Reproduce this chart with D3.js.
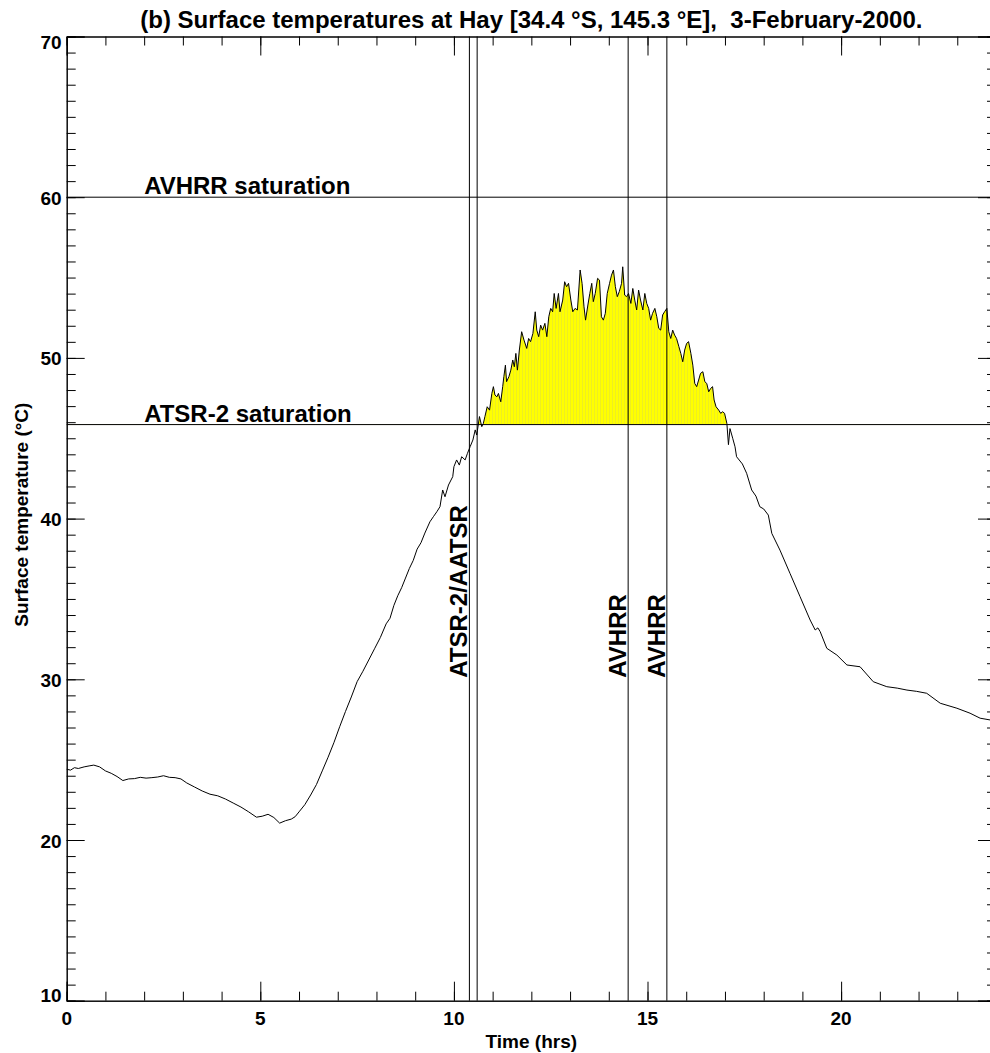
<!DOCTYPE html>
<html lang="en">
<head>
  <meta charset="UTF-8">
  <title>Surface temperatures at Hay</title>
  <style>
    body {
      margin: 0;
      background-color: #fff;
    }
    svg {
      display: block;
      font-family: "Liberation Sans", Arial, Helvetica, sans-serif;
      font-weight: bold;
    }
  </style>
  <script src="https://d3js.org/d3.v7.min.js"></script>
</head>
<body>
  <div id="chart"></div>

  <script>
    // Time of day (hrs) and surface temperature (deg C)
    const hours = [
      0.00, 0.10, 0.20, 0.30, 0.45, 0.60, 0.70, 0.85, 1.00, 1.15, 1.30, 1.45, 1.60, 1.75, 1.90,
      2.05, 2.20, 2.35, 2.50, 2.65, 2.80, 2.95, 3.10, 3.30, 3.50, 3.70, 3.90, 4.10, 4.30, 4.50,
      4.70, 4.90, 5.05, 5.20, 5.35, 5.50, 5.65, 5.80, 5.90, 6.00, 6.15, 6.30, 6.45, 6.60, 6.75,
      6.90, 7.05, 7.20, 7.35, 7.50, 7.65, 7.80, 7.95, 8.10, 8.25, 8.35, 8.45, 8.55, 8.65, 8.75,
      8.85, 8.95, 9.05, 9.15, 9.25, 9.38, 9.47, 9.56, 9.64, 9.71, 9.77, 9.86, 9.97, 10.00, 10.07,
      10.14, 10.20, 10.29, 10.35, 10.42, 10.49, 10.55, 10.59, 10.66, 10.72,
      10.76, 10.80, 10.86, 10.92, 10.98, 11.02, 11.06, 11.11,
      11.15, 11.21, 11.26, 11.29, 11.33, 11.36, 11.42, 11.47,
      11.52, 11.56, 11.60, 11.64, 11.69, 11.75, 11.81, 11.88,
      11.93, 11.98, 12.04, 12.10, 12.14, 12.19, 12.24, 12.29,
      12.35, 12.40, 12.45, 12.50, 12.55, 12.59, 12.64, 12.70,
      12.74, 12.81, 12.86, 12.91, 12.96, 13.02, 13.07, 13.13,
      13.19, 13.26, 13.31, 13.36, 13.40, 13.46, 13.51, 13.56,
      13.60, 13.65, 13.71, 13.76, 13.81, 13.86, 13.91, 13.96,
      14.02, 14.07, 14.12, 14.17, 14.22, 14.27, 14.33, 14.36,
      14.41, 14.46, 14.51, 14.57, 14.62, 14.67, 14.72, 14.77,
      14.82, 14.88, 14.93, 14.98, 15.03, 15.08, 15.13, 15.19,
      15.24, 15.29, 15.34, 15.39, 15.44, 15.50, 15.55, 15.60,
      15.65, 15.70, 15.75, 15.81, 15.86, 15.91, 15.96, 16.01,
      16.06, 16.12, 16.17, 16.22, 16.27, 16.32, 16.37, 16.43,
      16.48, 16.53, 16.58, 16.63, 16.68, 16.72, 16.77, 16.84,
      16.89, 16.94, 16.99, 17.05, 17.09, 17.13, 17.20, 17.26,
      17.30, 17.45, 17.56, 17.69, 17.80, 17.90, 18.00, 18.12, 18.21, 18.42, 18.68, 18.94, 19.20, 19.33, 19.40, 19.46,
      19.63, 19.89, 20.15, 20.49, 20.83, 21.18, 21.45, 21.70, 21.95, 22.21, 22.56, 22.99, 23.33, 23.59, 23.85, 24.00
    ];
    const temps = [
      24.40, 24.35, 24.50, 24.45, 24.55, 24.62, 24.66, 24.55, 24.30, 24.15, 23.95, 23.70, 23.80, 23.82, 23.90,
      23.85, 23.88, 23.92, 24.00, 23.90, 23.88, 23.80, 23.55, 23.30, 23.05, 22.85, 22.75, 22.55, 22.30, 22.05,
      21.75, 21.42, 21.48, 21.60, 21.40, 21.05, 21.20, 21.30, 21.45, 21.75, 22.20, 22.80, 23.45, 24.30, 25.15,
      26.05, 27.05, 28.00, 28.90, 29.85, 30.50, 31.20, 31.90, 32.60, 33.45, 33.80, 34.60, 35.20, 35.70, 36.30,
      36.90, 37.40, 38.10, 38.50, 39.10, 39.80, 40.12, 40.43, 40.74, 41.78, 41.36, 42.09, 42.61, 43.23, 43.65,
      43.33, 43.85, 43.65, 44.06, 44.48, 44.89, 45.52, 45.20, 46.35, 45.72,
      45.92, 46.34, 46.96, 46.75, 47.79, 48.21, 47.69, 47.58,
      47.79, 47.27, 48.21, 48.83, 49.55, 48.52, 48.83, 49.24,
      49.87, 49.45, 50.28, 49.24, 50.49, 51.63, 51.11, 50.59,
      51.21, 51.01, 51.52, 52.87, 51.73, 51.32, 52.04, 51.73,
      52.15, 51.32, 52.56, 53.08, 52.87, 54.01, 53.08, 54.01,
      52.87, 53.60, 54.74, 54.43, 54.64, 53.60, 52.87, 53.08,
      52.98, 55.47, 54.64, 53.18, 52.35, 53.29, 54.01, 54.64,
      53.50, 54.01, 54.95, 54.84, 52.56, 52.35, 52.77, 54.01,
      54.64, 55.15, 55.47, 54.43, 53.81, 54.12, 54.64, 55.67,
      53.91, 53.81, 54.01, 53.39, 54.32, 53.60, 52.98, 54.22,
      53.60, 52.98, 54.01, 53.39, 53.08, 52.35, 52.77, 53.08,
      52.56, 51.84, 51.73, 52.67, 52.87, 53.08, 51.63, 51.21,
      51.73, 51.42, 51.21, 50.70, 50.28, 49.76, 50.49, 50.90,
      51.01, 50.28, 49.55, 48.41, 48.21, 48.62, 49.04, 49.14,
      48.52, 48.41, 47.89, 48.10, 48.21, 47.38, 46.96, 46.75,
      46.55, 46.65, 46.55, 45.92, 44.60, 45.60, 45.00, 44.47,
      43.85, 43.40, 42.82, 41.78, 41.40, 40.74, 40.60, 40.22, 39.08, 38.04, 36.59, 35.14, 33.69, 33.07, 33.20, 32.96,
      31.93, 31.51, 30.89, 30.78, 29.85, 29.54, 29.45, 29.33, 29.25, 29.13, 28.51, 28.20, 27.89, 27.58, 27.47, 27.40
    ];

    // Saturation levels (horizontal lines) and overpass times (vertical lines)
    const saturationLabels = ['AVHRR saturation', 'ATSR-2 saturation'];
    const saturationTemps = [60, 45.85];
    const overpassLabels = ['ATSR-2/AATSR', '', 'AVHRR', 'AVHRR'];
    const overpassHours = [10.4, 10.6, 14.5, 15.5];

    // Axis ticks
    const xMajorTicks = [0, 5, 10, 15, 20];
    const xMinorTicks = d3.range(0, 25, 1);
    const yMajorTicks = [10, 20, 30, 40, 50, 60, 70];
    const yMinorTicks = d3.range(10, 71, 1);

    const width = 990;
    const height = 1053;
    const margin = { top: 36.5, right: -6, bottom: 52.3, left: 66.7 };

    const svg = d3.select('#chart')
      .append('svg')
      .attr('width', width)
      .attr('height', height);

    const x = d3.scaleLinear()
      .domain([0, 24])
      .range([margin.left, width - margin.right]);

    const y = d3.scaleLinear()
      .domain([10, 70])
      .range([height - margin.bottom, margin.top]);

    const data = hours.map((h, i) => ({ h: h, t: temps[i] }));
    const atsrSat = saturationTemps[1];

    // Stripy yellow fill, like the original polyfill
    const defs = svg.append('defs');
    const pattern = defs.append('pattern')
      .attr('id', 'stripes')
      .attr('patternUnits', 'userSpaceOnUse')
      .attr('width', 3)
      .attr('height', 10);
    pattern.append('rect')
      .attr('width', 3)
      .attr('height', 10)
      .attr('fill', '#ffff00');
    pattern.append('rect')
      .attr('width', 1)
      .attr('height', 10)
      .attr('fill', '#eeee22');

    defs.append('clipPath')
      .attr('id', 'above-sat')
      .append('rect')
      .attr('x', x(0))
      .attr('y', y(70))
      .attr('width', x(24) - x(0))
      .attr('height', y(atsrSat) - y(70));

    // Part of the trace above ATSR-2 saturation
    svg.append('path')
      .datum(data)
      .attr('clip-path', 'url(#above-sat)')
      .attr('fill', 'url(#stripes)')
      .attr('d', d3.area()
        .x(d => x(d.h))
        .y0(y(atsrSat))
        .y1(d => y(d.t)));

    // Saturation lines
    svg.append('g')
      .selectAll('line')
      .data(saturationTemps)
      .join('line')
      .attr('x1', x(0))
      .attr('x2', x(24))
      .attr('y1', d => y(d))
      .attr('y2', d => y(d))
      .attr('stroke', '#000')
      .attr('stroke-width', 1);

    svg.append('g')
      .selectAll('text')
      .data(saturationLabels)
      .join('text')
      .attr('x', x(2))
      .attr('y', (d, i) => y(saturationTemps[i]) - 3)
      .attr('font-size', 24)
      .text(d => d);

    // Overpass lines
    svg.append('g')
      .selectAll('line')
      .data(overpassHours)
      .join('line')
      .attr('x1', d => x(d))
      .attr('x2', d => x(d))
      .attr('y1', y(10))
      .attr('y2', y(70))
      .attr('stroke', '#000')
      .attr('stroke-width', 1);

    svg.append('g')
      .selectAll('text')
      .data(overpassLabels)
      .join('text')
      .attr('transform', (d, i) => `translate(${x(overpassHours[i]) - 2},${y(30.1)}) rotate(-90)`)
      .attr('font-size', 24)
      .text(d => d);

    // Temperature trace
    svg.append('path')
      .datum(data)
      .attr('fill', 'none')
      .attr('stroke', '#000')
      .attr('stroke-width', 1)
      .attr('stroke-linejoin', 'round')
      .attr('d', d3.line()
        .x(d => x(d.h))
        .y(d => y(d.t)));

    // Axes: ticks on all four sides, labels bottom and left
    const tickSet = (axis, values, size) => axis.tickValues(values).tickSize(size).tickFormat('');

    svg.append('g')
      .attr('transform', `translate(0,${y(10)})`)
      .call(tickSet(d3.axisTop(x), xMinorTicks, 9));
    svg.append('g')
      .attr('transform', `translate(0,${y(10)})`)
      .call(tickSet(d3.axisTop(x), xMajorTicks, 19));
    svg.append('g')
      .attr('transform', `translate(0,${y(70)})`)
      .call(tickSet(d3.axisBottom(x), xMinorTicks, 9));
    svg.append('g')
      .attr('transform', `translate(0,${y(70)})`)
      .call(tickSet(d3.axisBottom(x), xMajorTicks, 19));

    svg.append('g')
      .attr('transform', `translate(${x(0)},0)`)
      .call(tickSet(d3.axisRight(y), yMinorTicks, 9));
    svg.append('g')
      .attr('transform', `translate(${x(0)},0)`)
      .call(tickSet(d3.axisRight(y), yMajorTicks, 18));
    svg.append('g')
      .attr('transform', `translate(${x(24)},0)`)
      .call(tickSet(d3.axisLeft(y), yMinorTicks, 9));
    svg.append('g')
      .attr('transform', `translate(${x(24)},0)`)
      .call(tickSet(d3.axisLeft(y), yMajorTicks, 18));

    svg.selectAll('.domain').attr('stroke', '#000');
    svg.selectAll('.tick line').attr('stroke', '#000');

    // Tick labels
    svg.append('g')
      .selectAll('text')
      .data(xMajorTicks)
      .join('text')
      .attr('x', d => x(d))
      .attr('y', y(10) + 24.5)
      .attr('text-anchor', 'middle')
      .attr('font-size', 19)
      .text(d => d);

    svg.append('g')
      .selectAll('text')
      .data(yMajorTicks)
      .join('text')
      .attr('x', x(0) - 5)
      .attr('y', d => y(d) + (d === 10 ? 1 : d === 70 ? 12 : 7.5))
      .attr('text-anchor', 'end')
      .attr('font-size', 19)
      .text(d => d);

    // Axis titles
    svg.append('text')
      .attr('x', (x(0) + x(24)) / 2)
      .attr('y', y(10) + 47.5)
      .attr('text-anchor', 'middle')
      .attr('font-size', 19)
      .text('Time (hrs)');

    svg.append('text')
      .attr('transform', `translate(28,${(y(10) + y(70)) / 2 - 4}) rotate(-90)`)
      .attr('text-anchor', 'middle')
      .attr('font-size', 19)
      .text('Surface temperature (°C)');

    svg.append('text')
      .attr('x', (x(0) + x(24)) / 2)
      .attr('y', 28)
      .attr('text-anchor', 'middle')
      .attr('font-size', 24)
      .text('(b) Surface temperatures at Hay [34.4 °S, 145.3 °E],\u00a0 3-February-2000.');
  </script>
</body>
</html>
